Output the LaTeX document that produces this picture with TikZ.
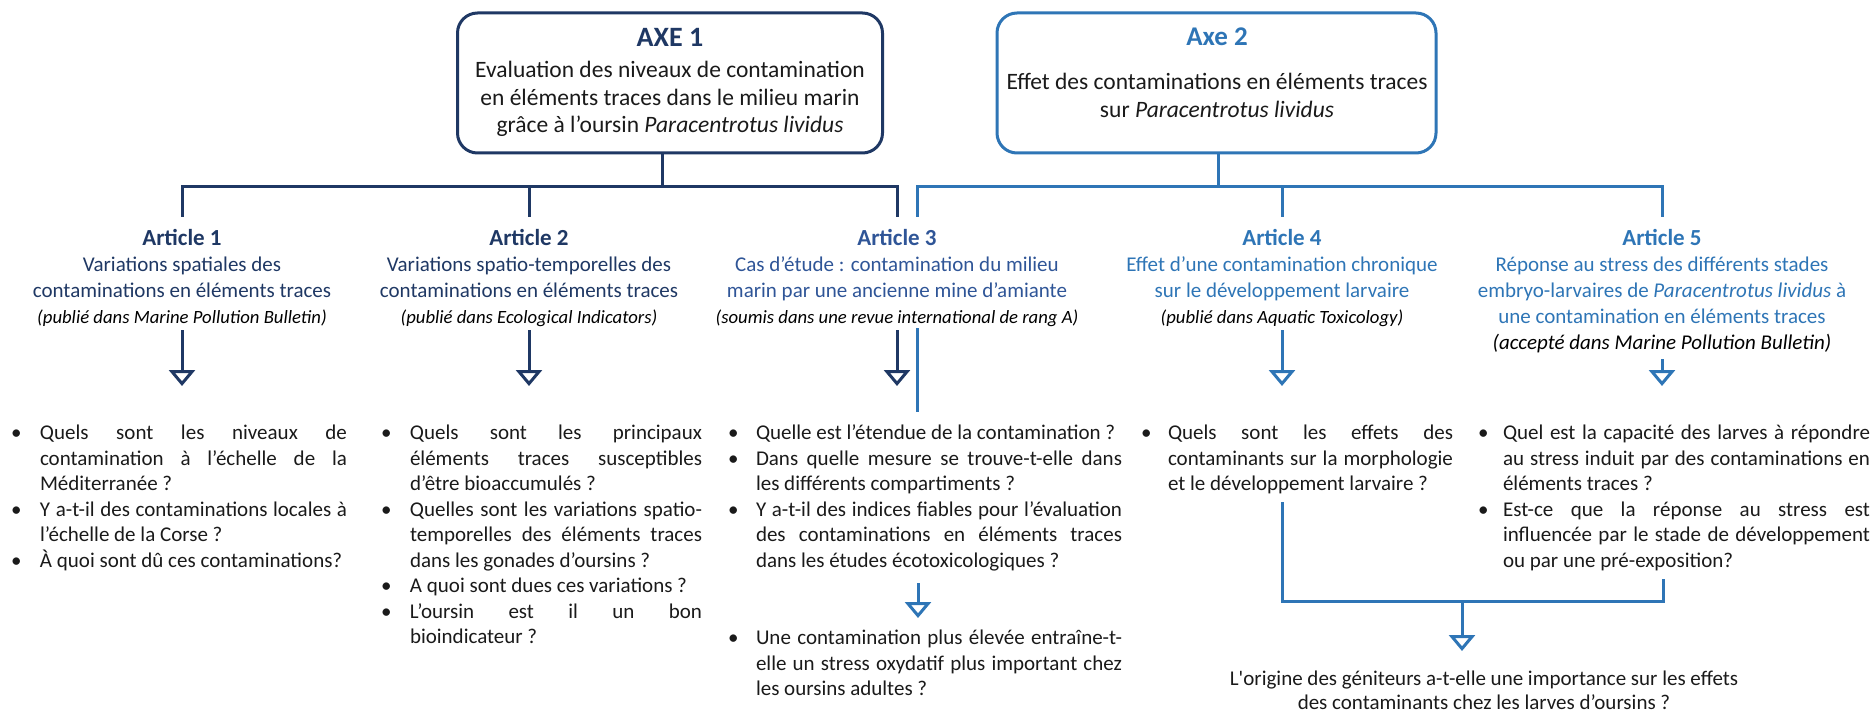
\documentclass[tikz,border=0pt]{standalone}
\usepackage{fontspec}
\setmainfont{Carlito}
\usetikzlibrary{arrows.meta}
\definecolor{navy}{HTML}{1F3864}
\definecolor{midblue}{HTML}{2F5597}
\definecolor{lblue}{HTML}{2E75B6}
\definecolor{txt}{HTML}{1A1A1A}
\newcommand\bitem[1]{\par\hangindent=#1\relax\hangafter=1\relax\noindent\makebox[#1][l]{•}\ignorespaces}
\newenvironment{qbox}[1]{\begin{minipage}[t]{#1}\fontsize{21}{25.5}\selectfont
  \hyphenpenalty=10000\relax\exhyphenpenalty=10000\relax\tolerance=10000\relax
  \parindent=0pt\relax\parskip=0pt\relax}{\end{minipage}}
\begin{document}
\begin{tikzpicture}[x=1pt,y=-1pt,
  every node/.style={inner sep=0pt, outer sep=0pt},
  axebox/.style={draw, line width=3pt, rounded corners=20pt, minimum height=140pt},
  navyline/.style={draw=navy, line width=3pt},
  blueline/.style={draw=lblue, line width=3pt},
  navyarrow/.style={navyline, -{Triangle[open, length=16pt, width=26pt]}},
  bluearrow/.style={blueline, -{Triangle[open, length=16pt, width=26pt]}},
  arttext/.style={align=center, font=\fontsize{21}{26}\selectfont, anchor=north},
  qlist/.style={anchor=north west, text=txt},
]
\useasboundingbox (0,0) rectangle (1876,714);

% ---- axes
\node[axebox, draw=navy, minimum width=425pt] (axe1) at (670,83) {};
\node[font=\bfseries\fontsize{28}{30}\selectfont, text=navy] (axe1title) at (670,37) {AXE 1};
\node[align=center, text=txt, font=\fontsize{23.5}{27.5}\selectfont] (axe1text) at (670,99)
  {Evaluation des niveaux de contamination\\ en éléments traces dans le milieu marin\\ grâce à l’oursin \textit{Paracentrotus lividus}};

\node[axebox, draw=lblue, minimum width=439pt] (axe2) at (1216.5,83) {};
\node[font=\bfseries\fontsize{27}{30}\selectfont, text=lblue] (axe2title) at (1217,37) {Axe 2};
\node[align=center, text=txt, font=\fontsize{23.5}{28}\selectfont] (axe2text) at (1217,95)
  {Effet des contaminations en éléments traces\\ sur \textit{Paracentrotus lividus}};

% ---- articles
\node[arttext, text=navy] (art1) at (182,229)
  {{\bfseries\fontsize{23}{26}\selectfont Article 1}\\ Variations spatiales des\\ contaminations en éléments traces\\
   {\color{black}\itshape\fontsize{18.7}{26}\selectfont (publié dans Marine Pollution Bulletin)}};
\node[arttext, text=navy] (art2) at (529,229)
  {{\bfseries\fontsize{23}{26}\selectfont Article 2}\\ Variations spatio-temporelles des\\ contaminations en éléments traces\\
   {\color{black}\itshape\fontsize{18.7}{26}\selectfont (publié dans Ecological Indicators)}};
\node[arttext, text=midblue] (art3) at (897,229)
  {{\bfseries\fontsize{23}{26}\selectfont Article 3}\\ Cas d’étude : contamination du milieu\\ marin par une ancienne mine d’amiante\\
   {\color{black}\itshape\fontsize{18.7}{26}\selectfont (soumis dans une revue international de rang A)}};
\node[arttext, text=lblue] (art4) at (1282,229)
  {{\bfseries\fontsize{23}{26}\selectfont Article 4}\\ Effet d’une contamination chronique\\ sur le développement larvaire\\
   {\color{black}\itshape\fontsize{18.7}{26}\selectfont (publié dans Aquatic Toxicology)}};
\node[arttext, text=lblue] (art5) at (1662,229)
  {{\bfseries\fontsize{23}{26}\selectfont Article 5}\\ Réponse au stress des différents stades\\ embryo-larvaires de \textit{Paracentrotus lividus} à\\ une contamination en éléments traces\\
   {\color{black}\itshape (accepté dans Marine Pollution Bulletin)}};

% ---- question lists
\node[qlist] (q1) at (11,425) {\begin{qbox}{336pt}
  \bitem{29pt}Quels sont les niveaux de \linebreak contamination à l’échelle de la \linebreak Méditerranée~?
  \bitem{29pt}Y a-t-il des contaminations locales à \linebreak l’échelle de la Corse~?
  \bitem{29pt}À quoi sont dû ces contaminations?\end{qbox}};
\node[qlist] (q2) at (381,425) {\begin{qbox}{321pt}
  \bitem{29pt}Quels sont les principaux \linebreak éléments traces susceptibles \linebreak d’être bioaccumulés~?
  \bitem{29pt}Quelles sont les variations spatio-\linebreak temporelles des éléments traces \linebreak dans les gonades d’oursins~?
  \bitem{29pt}A quoi sont dues ces variations~?
  \bitem{29pt}L’oursin est il un bon \linebreak bioindicateur~?\end{qbox}};
\node[qlist] (q3) at (728,425) {\begin{qbox}{394pt}
  \bitem{28pt}Quelle est l’étendue de la contamination~?
  \bitem{28pt}Dans quelle mesure se trouve-t-elle dans \linebreak les différents compartiments~?
  \bitem{28pt}Y a-t-il des indices fiables pour l’évaluation \linebreak des contaminations en éléments traces \linebreak dans les études écotoxicologiques~?\end{qbox}};
\node[qlist] (q3b) at (728,630) {\begin{qbox}{394pt}
  \bitem{28pt}Une contamination plus élevée entraîne-t-\linebreak elle un stress oxydatif plus important chez \linebreak les oursins adultes~?\end{qbox}};
\node[qlist] (q4) at (1141,425) {\begin{qbox}{312pt}
  \bitem{27pt}Quels sont les effets des \linebreak contaminants sur la morphologie \linebreak et le développement larvaire~?\end{qbox}};
\node[qlist] (q5) at (1478,425) {\begin{qbox}{392pt}
  \bitem{25pt}Quel est la capacité des larves à répondre \linebreak au stress induit par des contaminations en \linebreak éléments traces~?
  \bitem{25pt}Est-ce que la réponse au stress est \linebreak influencée par le stade de développement \linebreak ou par une pré-exposition?\end{qbox}};

\node[align=center, text=txt, font=\fontsize{21}{24}\selectfont] (fin) at (1484,690)
  {L\textquotesingle origine des géniteurs a-t-elle une importance sur les effets\\ des contaminants chez les larves d’oursins~?};

% ---- tree connectors
\coordinate (h1) at (662,187);
\coordinate (h2) at (1218,187);
\coordinate (b3) at (917,187);
\coordinate (b3end) at (917,217);
\draw[navyline] (axe1.south -| h1) -- (h1);
\draw[navyline] ([yshift=12pt]art1.north) |- (h1) -| ([yshift=12pt]art3.north);
\draw[navyline] (art2.north |- h1) -- ([yshift=12pt]art2.north);
\draw[blueline] (axe2.south -| h2) -- (h2);
\draw[blueline] ([yshift=12pt]art5.north) |- (b3) -- (b3end);
\draw[blueline] (art4.north |- h2) -- ([yshift=12pt]art4.north);

% ---- arrows to questions
\coordinate (a1e) at (182,386);
\coordinate (a2e) at (529,386);
\coordinate (a3e) at (897,386);
\coordinate (a4e) at (1282,386);
\coordinate (a5e) at (1662,386);
\draw[navyarrow] (art1.south |- 0,330) -- (a1e);
\draw[navyarrow] (art2.south |- 0,330) -- (a2e);
\draw[navyarrow] (art3.south |- 0,330) -- (a3e);
\draw[bluearrow] (art4.south |- 0,330) -- (a4e);
\draw[bluearrow] (art5.south |- 0,359) -- (a5e);

\coordinate (b3a) at (917,328);
\coordinate (b3b) at (917,412);
\draw[blueline] (b3a) -- (b3b);
\coordinate (c3a) at (918,583);
\coordinate (c3b) at (918,618);
\draw[bluearrow] (c3a) -- (c3b);

% ---- merge of articles 4 and 5
\coordinate (m4) at (1282,502);
\coordinate (m5) at (1663,579);
\coordinate (mj) at (1462,601);
\coordinate (fe) at (1462,651);
\draw[blueline] (m4) |- (mj) -| (m5);
\draw[bluearrow] (mj) -- (fe);
\end{tikzpicture}
\end{document}
